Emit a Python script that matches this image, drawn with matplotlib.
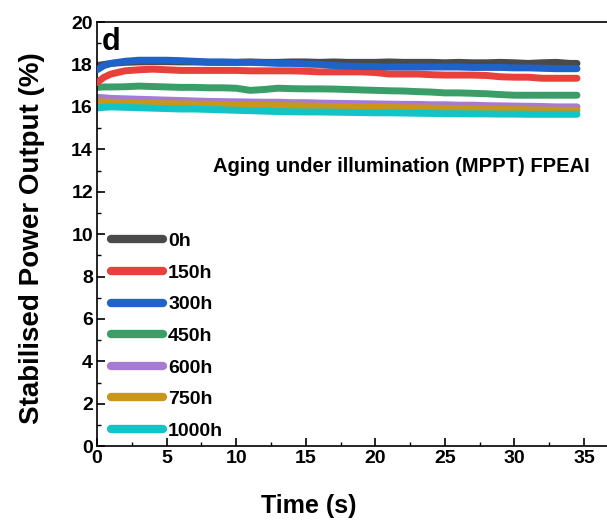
import matplotlib
matplotlib.use("Agg")
import matplotlib.pyplot as plt
from matplotlib.ticker import MultipleLocator

plt.rcParams['font.family'] = ['Liberation Sans', 'DejaVu Sans']
plt.rcParams['font.weight'] = 'bold'

# Time axis (s)
time_s = [0, 0.5, 1, 2, 3, 4, 5, 6, 7, 8, 9, 10, 11, 12, 13, 14, 15, 16, 17,
          18, 19, 20, 21, 22, 23, 24, 25, 26, 27, 28, 29, 30, 31, 32, 33, 34, 34.5]

# Stabilised power output (%) after each aging duration
spo_0h = [17.95, 18.00, 18.05, 18.10, 18.12, 18.13, 18.13, 18.12, 18.12, 18.10,
          18.10, 18.10, 18.12, 18.10, 18.10, 18.12, 18.12, 18.10, 18.12, 18.10,
          18.10, 18.10, 18.12, 18.10, 18.10, 18.10, 18.08, 18.10, 18.08, 18.08,
          18.10, 18.08, 18.05, 18.08, 18.10, 18.05, 18.05]
spo_150h = [17.15, 17.40, 17.55, 17.70, 17.75, 17.78, 17.75, 17.72, 17.72, 17.72,
            17.72, 17.72, 17.70, 17.70, 17.70, 17.70, 17.68, 17.65, 17.65, 17.65,
            17.65, 17.62, 17.55, 17.55, 17.55, 17.52, 17.50, 17.50, 17.50, 17.48,
            17.42, 17.40, 17.40, 17.35, 17.35, 17.35, 17.35]
spo_300h = [17.75, 17.95, 18.05, 18.15, 18.20, 18.20, 18.20, 18.18, 18.15, 18.12,
            18.12, 18.10, 18.10, 18.08, 18.05, 18.05, 18.02, 18.00, 17.95, 17.92,
            17.90, 17.90, 17.88, 17.88, 17.88, 17.88, 17.88, 17.88, 17.86, 17.86,
            17.86, 17.84, 17.84, 17.82, 17.80, 17.80, 17.80]
spo_450h = [16.92, 16.94, 16.94, 16.95, 16.98, 16.96, 16.94, 16.92, 16.92, 16.90,
            16.90, 16.88, 16.78, 16.82, 16.88, 16.86, 16.85, 16.85, 16.84, 16.82,
            16.80, 16.78, 16.76, 16.75, 16.72, 16.70, 16.66, 16.66, 16.64, 16.62,
            16.58, 16.55, 16.55, 16.55, 16.55, 16.55, 16.55]
spo_600h = [16.45, 16.43, 16.40, 16.38, 16.36, 16.34, 16.32, 16.30, 16.28, 16.26,
            16.25, 16.24, 16.23, 16.22, 16.22, 16.20, 16.20, 16.18, 16.17, 16.16,
            16.15, 16.14, 16.13, 16.12, 16.12, 16.10, 16.10, 16.08, 16.08, 16.06,
            16.05, 16.04, 16.03, 16.02, 16.00, 16.00, 16.00]
spo_750h = [16.24, 16.23, 16.22, 16.20, 16.18, 16.16, 16.15, 16.14, 16.13, 16.12,
            16.10, 16.10, 16.08, 16.08, 16.06, 16.05, 16.04, 16.03, 16.02, 16.00,
            16.00, 15.98, 15.97, 15.96, 15.95, 15.94, 15.93, 15.92, 15.90, 15.89,
            15.88, 15.87, 15.86, 15.85, 15.84, 15.84, 15.84]
spo_1000h = [15.95, 15.98, 16.00, 15.98, 15.96, 15.94, 15.92, 15.90, 15.90, 15.88,
             15.86, 15.84, 15.82, 15.80, 15.78, 15.77, 15.76, 15.76, 15.75, 15.74,
             15.73, 15.72, 15.72, 15.71, 15.70, 15.69, 15.68, 15.68, 15.67, 15.67,
             15.66, 15.66, 15.65, 15.65, 15.65, 15.65, 15.65]

labels = ['0h', '150h', '300h', '450h', '600h', '750h', '1000h']
colors = ['#4a4a4a', '#e8413c', '#1f62c9', '#3a9e68', '#a67cd2', '#c8961a', '#14c3c6']
series = [spo_0h, spo_150h, spo_300h, spo_450h, spo_600h, spo_750h, spo_1000h]

fig = plt.figure(figsize=(6.07, 5.25), dpi=100)
ax = fig.add_axes([0.160, 0.150, 0.841, 0.808])

# 0h sits underneath 300h at the start of the trace
zorders = [2, 3, 4, 2, 2, 2, 2]
for y, lab, c, z in zip(series, labels, colors, zorders):
    ax.plot(time_s, y, color=c, lw=5, label=lab, solid_capstyle='round', zorder=z)

ax.set_xlim(0, 36.7)
ax.set_ylim(0, 20)
ax.xaxis.set_major_locator(MultipleLocator(5))
ax.xaxis.set_minor_locator(MultipleLocator(2.5))
ax.yaxis.set_major_locator(MultipleLocator(2))
ax.yaxis.set_minor_locator(MultipleLocator(1))
ax.tick_params(which='major', direction='in', length=6, width=1.2, labelsize=14, pad=3)
ax.tick_params(which='minor', direction='in', length=3, width=1.0)
for lab in ax.get_xticklabels() + ax.get_yticklabels():
    lab.set_fontweight('bold')
for s in ['left', 'bottom', 'top']:
    ax.spines[s].set_linewidth(1.2)
ax.spines['right'].set_visible(False)

ax.set_xlabel('Time (s)', fontsize=18, fontweight='bold')
ax.xaxis.set_label_coords(0.415, -0.113)
ax.set_ylabel('Stabilised Power Output (%)', fontsize=20, fontweight='bold')
ax.yaxis.set_label_coords(-0.103, 0.49)

ax.text(0.010, 0.988, 'd', transform=ax.transAxes, fontsize=22, fontweight='bold',
        va='top', ha='left')
ax.text(8.3, 13.2, 'Aging under illumination (MPPT) FPEAI', fontsize=14.5,
        fontweight='bold', va='center', ha='left')

leg = ax.legend(loc='lower left', bbox_to_anchor=(0.0, -0.017), frameon=False,
                fontsize=14, handlelength=2.7, handletextpad=0.25,
                labelspacing=0.72, borderaxespad=0.3)
for t in leg.get_texts():
    t.set_fontweight('bold')
for h in leg.get_lines():
    h.set_linewidth(6)
    h.set_solid_capstyle('round')

fig.savefig('out.png', dpi=100)
